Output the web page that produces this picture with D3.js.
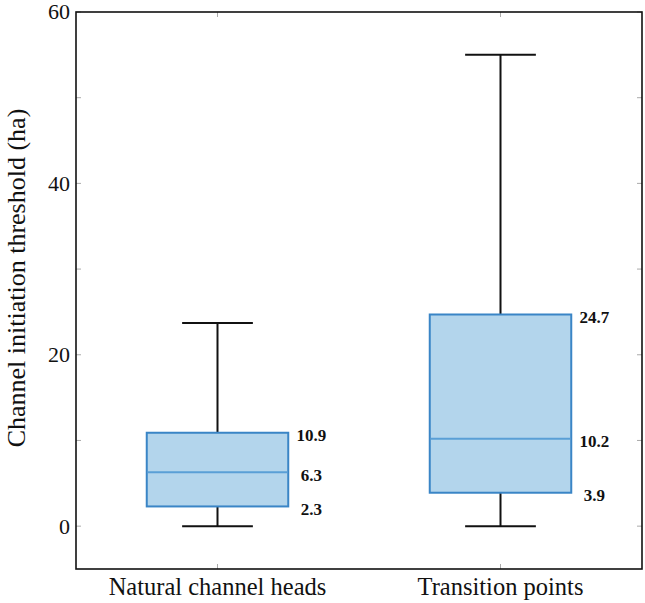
<!DOCTYPE html>
<html>
<head>
<meta charset="utf-8">
<script src="https://cdn.jsdelivr.net/npm/d3@7"></script>
<style>
  body { margin: 0; background: #fff; }
  svg { font-family: "Liberation Serif", "Times New Roman", serif; }
  .tick-label { font-size: 22px; fill: #111; }
  .axis-title { font-size: 26px; fill: #111; }
  .cat-label { font-size: 24.5px; fill: #111; }
  .val-label { font-size: 17px; font-weight: bold; fill: #111; }
</style>
</head>
<body>
<div id="chart"></div>
<script>
// box statistics
var categories = ["Natural channel heads", "Transition points"];
var whiskerLow = [0, 0];
var q1 = [2.3, 3.9];
var median = [6.3, 10.2];
var q3 = [10.9, 24.7];
var whiskerHigh = [23.7, 55];
var yTicks = [0, 10, 20, 30, 40, 50, 60];
var yLabels = [0, 20, 40, 60];

var width = 645, height = 603;
var margin = { top: 12, right: 3, bottom: 34, left: 76 };

var svg = d3.select("#chart").append("svg")
    .attr("width", width)
    .attr("height", height);

var x = d3.scalePoint()
    .domain(categories)
    .range([margin.left, width - margin.right])
    .padding(0.5);

var y = d3.scaleLinear()
    .domain([-5, 60])
    .range([height - margin.bottom, margin.top]);

var step = x.step();
var boxW = step / 2;
var capW = boxW / 2;

var data = categories.map(function (c, i) {
    return { cat: c, lo: whiskerLow[i], q1: q1[i], med: median[i], q3: q3[i], hi: whiskerHigh[i] };
});

// minor ticks inside the frame
var tickG = svg.append("g").attr("stroke", "#aaa").attr("stroke-width", 1);
yTicks.forEach(function (t) {
    tickG.append("line")
        .attr("x1", margin.left).attr("x2", margin.left + 5)
        .attr("y1", y(t)).attr("y2", y(t));
    tickG.append("line")
        .attr("x1", width - margin.right - 5).attr("x2", width - margin.right)
        .attr("y1", y(t)).attr("y2", y(t));
});
categories.forEach(function (c) {
    tickG.append("line")
        .attr("x1", x(c)).attr("x2", x(c))
        .attr("y1", height - margin.bottom).attr("y2", height - margin.bottom - 5);
    tickG.append("line")
        .attr("x1", x(c)).attr("x2", x(c))
        .attr("y1", margin.top).attr("y2", margin.top + 5);
});

// whiskers
var boxes = svg.selectAll("g.box")
    .data(data)
    .enter()
    .append("g")
    .attr("class", "box");

boxes.append("line")
    .attr("x1", function (d) { return x(d.cat); })
    .attr("x2", function (d) { return x(d.cat); })
    .attr("y1", function (d) { return y(d.hi); })
    .attr("y2", function (d) { return y(d.q3); })
    .attr("stroke", "#111").attr("stroke-width", 2);

boxes.append("line")
    .attr("x1", function (d) { return x(d.cat); })
    .attr("x2", function (d) { return x(d.cat); })
    .attr("y1", function (d) { return y(d.q1); })
    .attr("y2", function (d) { return y(d.lo); })
    .attr("stroke", "#111").attr("stroke-width", 2);

["hi", "lo"].forEach(function (k) {
    boxes.append("line")
        .attr("x1", function (d) { return x(d.cat) - capW / 2; })
        .attr("x2", function (d) { return x(d.cat) + capW / 2; })
        .attr("y1", function (d) { return y(d[k]); })
        .attr("y2", function (d) { return y(d[k]); })
        .attr("stroke", "#111").attr("stroke-width", 2);
});

// box body
boxes.append("rect")
    .attr("x", function (d) { return x(d.cat) - boxW / 2; })
    .attr("y", function (d) { return y(d.q3); })
    .attr("width", boxW)
    .attr("height", function (d) { return y(d.q1) - y(d.q3); })
    .attr("fill", "#b3d5ec")
    .attr("stroke", "#3a85c6")
    .attr("stroke-width", 2);

boxes.append("line")
    .attr("x1", function (d) { return x(d.cat) - boxW / 2 + 1; })
    .attr("x2", function (d) { return x(d.cat) + boxW / 2 - 1; })
    .attr("y1", function (d) { return y(d.med); })
    .attr("y2", function (d) { return y(d.med); })
    .attr("stroke", "#5a9fd6")
    .attr("stroke-width", 2);

// value labels
["q3", "med", "q1"].forEach(function (k) {
    boxes.append("text")
        .attr("class", "val-label")
        .attr("x", function (d) { return x(d.cat) + boxW / 2 + 23; })
        .attr("y", function (d) { return y(d[k]); })
        .attr("dy", "0.5em")
        .attr("text-anchor", "middle")
        .text(function (d) { return d[k].toFixed(1); });
});

// frame
svg.append("rect")
    .attr("x", margin.left)
    .attr("y", margin.top)
    .attr("width", width - margin.left - margin.right)
    .attr("height", height - margin.top - margin.bottom)
    .attr("fill", "none")
    .attr("stroke", "#111")
    .attr("stroke-width", 1.6);

// y tick labels
svg.selectAll("text.tick-label")
    .data(yLabels)
    .enter()
    .append("text")
    .attr("class", "tick-label")
    .attr("x", margin.left - 6)
    .attr("y", function (d) { return y(d); })
    .attr("dy", "0.34em")
    .attr("text-anchor", "end")
    .text(function (d) { return d; });

// category labels
svg.selectAll("text.cat-label")
    .data(categories)
    .enter()
    .append("text")
    .attr("class", "cat-label")
    .attr("x", function (d) { return x(d); })
    .attr("y", height - 8)
    .attr("text-anchor", "middle")
    .text(function (d) { return d; });

// y axis title
svg.append("text")
    .attr("class", "axis-title")
    .attr("transform", "translate(25," + 278 + ") rotate(-90)")
    .attr("text-anchor", "middle")
    .text("Channel initiation threshold (ha)");
</script>
</body>
</html>
